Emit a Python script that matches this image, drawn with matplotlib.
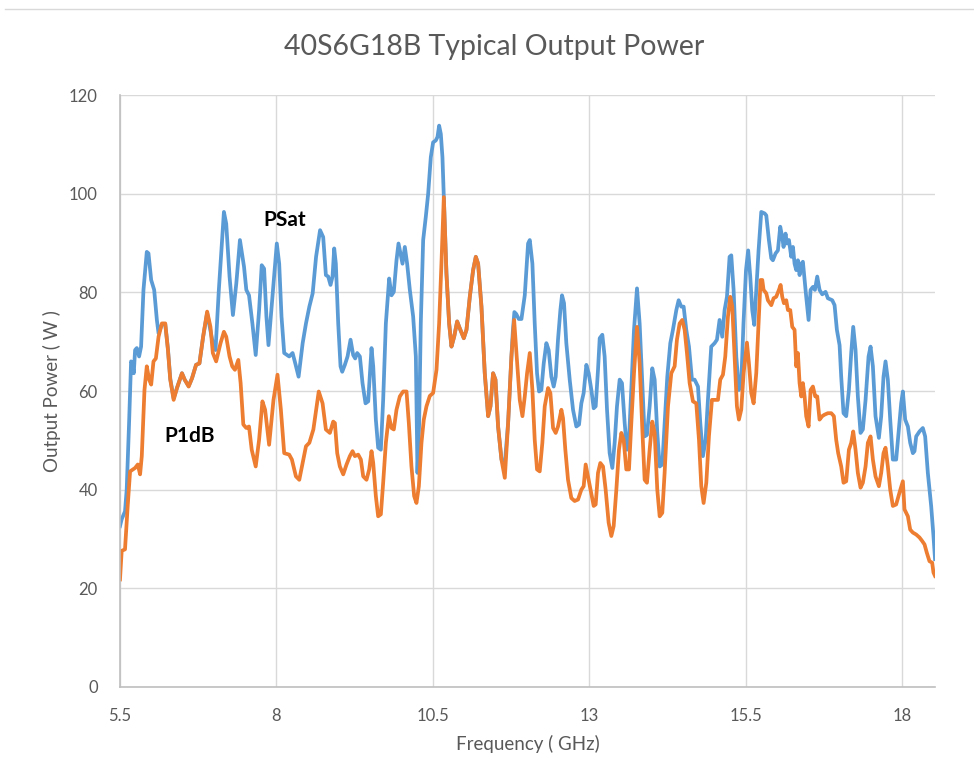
import matplotlib
matplotlib.use("Agg")
import matplotlib.pyplot as plt
from matplotlib.lines import Line2D

# frequency (GHz) and output power (W)
psat_freq = [5.50, 5.527, 5.58, 5.607, 5.645, 5.677, 5.698, 5.72, 5.741, 5.768, 5.805, 5.837,
             5.875, 5.928, 5.955, 5.998, 6.046, 6.089, 6.116, 6.169, 6.223, 6.266, 6.303, 6.357,
             6.41, 6.49, 6.533, 6.597, 6.651, 6.715, 6.769, 6.828, 6.892, 6.983, 7.026, 7.079,
             7.16, 7.197, 7.25, 7.304, 7.358, 7.416, 7.481, 7.518, 7.561, 7.615, 7.668, 7.722,
             7.764, 7.802, 7.839, 7.872, 7.936, 8.005, 8.043, 8.08, 8.123, 8.203, 8.257, 8.30,
             8.353, 8.418, 8.471, 8.525, 8.578, 8.632, 8.696, 8.746, 8.789, 8.826, 8.863, 8.895,
             8.922, 8.948, 8.986, 9.023, 9.05, 9.092, 9.135, 9.183, 9.225, 9.257, 9.289, 9.332,
             9.374, 9.422, 9.465, 9.518, 9.545, 9.587, 9.624, 9.667, 9.704, 9.747, 9.80, 9.837,
             9.874, 9.917, 9.949, 9.981, 10.013, 10.05, 10.087, 10.13, 10.183, 10.226, 10.252,
             10.279, 10.305, 10.343, 10.385, 10.423, 10.465, 10.502, 10.545, 10.572, 10.598,
             10.625, 10.651, 10.673, 10.715, 10.758, 10.795, 10.838, 10.886, 10.928, 10.992,
             11.035, 11.088, 11.141, 11.184, 11.221, 11.274, 11.327, 11.381, 11.418, 11.46,
             11.498, 11.54, 11.594, 11.647, 11.70, 11.753, 11.775, 11.80, 11.83, 11.87, 11.913,
             11.966, 12.019, 12.046, 12.088, 12.125, 12.162, 12.194, 12.231, 12.269, 12.311,
             12.348, 12.391, 12.428, 12.46, 12.497, 12.535, 12.561, 12.593, 12.63, 12.684,
             12.737, 12.79, 12.833, 12.87, 12.907, 12.95, 12.987, 13.03, 13.067, 13.099, 13.136,
             13.163, 13.205, 13.242, 13.28, 13.322, 13.365, 13.402, 13.439, 13.482, 13.519,
             13.562, 13.599, 13.631, 13.668, 13.711, 13.759, 13.801, 13.844, 13.881, 13.918,
             13.961, 14.003, 14.041, 14.083, 14.121, 14.163, 14.20, 14.243, 14.291, 14.333,
             14.387, 14.424, 14.466, 14.504, 14.546, 14.589, 14.637, 14.679, 14.733, 14.77,
             14.812, 14.855, 14.892, 14.945, 14.999, 15.036, 15.078, 15.121, 15.158, 15.196,
             15.238, 15.265, 15.302, 15.345, 15.387, 15.424, 15.46, 15.50, 15.535, 15.568, 15.60,
             15.632, 15.664, 15.701, 15.744, 15.797, 15.824, 15.866, 15.904, 15.93, 15.973,
             16.01, 16.047, 16.079, 16.10, 16.132, 16.154, 16.186, 16.223, 16.25, 16.276,
             16.303, 16.329, 16.356, 16.383, 16.409, 16.436, 16.462, 16.50, 16.532, 16.569,
             16.601, 16.638, 16.675, 16.718, 16.771, 16.808, 16.878, 16.915, 16.952, 16.995,
             17.021, 17.058, 17.101, 17.144, 17.181, 17.213, 17.25, 17.287, 17.33, 17.367,
             17.41, 17.458, 17.49, 17.527, 17.569, 17.623, 17.66, 17.697, 17.729, 17.766,
             17.804, 17.846, 17.899, 17.942, 17.979, 18.006, 18.043, 18.086, 18.123, 18.166,
             18.192, 18.219, 18.272, 18.325, 18.362, 18.405, 18.458, 18.495, 18.52]
psat_w = [32.6, 34.0, 35.6, 40.0, 53.5, 66.0, 65.6, 63.6, 68.3, 68.7, 67.0, 69.0,
          80.5, 88.2, 87.9, 82.5, 80.5, 74.4, 71.7, 73.5, 73.5, 68.5, 62.5, 58.5,
          60.6, 63.6, 62.3, 61.0, 62.6, 65.3, 65.6, 71.0, 75.8, 69.7, 68.3, 80.5,
          96.3, 93.9, 83.2, 75.4, 81.8, 90.6, 85.2, 80.5, 79.4, 73.7, 67.3, 76.4,
          85.5, 84.8, 75.1, 69.3, 79.1, 89.9, 85.8, 75.1, 67.7, 67.0, 67.7, 65.6,
          62.9, 69.7, 73.7, 77.1, 79.8, 87.2, 92.6, 91.2, 83.5, 83.2, 81.5, 83.2,
          88.9, 85.8, 73.7, 65.0, 63.9, 65.3, 67.0, 70.4, 67.3, 66.6, 67.7, 67.0,
          61.6, 57.5, 57.9, 68.7, 65.0, 54.2, 48.5, 48.1, 58.2, 73.7, 82.8, 79.4,
          80.1, 86.5, 89.9, 87.9, 85.8, 89.2, 85.8, 80.5, 75.1, 67.0, 43.4,
          53.5, 73.7, 90.6, 95.3, 100.0, 107.4, 110.4, 110.8, 111.5, 113.8,
          112.1, 107.4, 99.3, 83.8, 73.7, 69.0, 71.0, 74.1, 72.7, 70.7,
          72.4, 79.1, 84.5, 87.2, 85.8, 77.1, 63.6, 54.9, 56.9, 63.6,
          62.3, 52.8, 46.1, 45.2, 53.5, 67.0, 72.0, 76.0, 75.6, 74.6, 74.6,
          79.4, 89.9, 90.6, 85.8, 73.7, 63.6, 59.9, 60.2, 65.6, 69.7,
          68.3, 62.9, 60.9, 62.9, 70.4, 76.4, 79.4, 77.8, 69.7, 62.3,
          56.2, 52.8, 53.2, 57.5, 59.6, 65.3, 63.6, 60.2, 56.5, 56.9, 64.3,
          70.7, 71.4, 67.0, 56.2, 47.4, 44.4, 49.5, 56.9, 62.3, 61.6,
          53.5, 48.1, 50.1, 60.2, 72.4, 80.8, 73.7, 61.6, 50.8, 51.1,
          56.9, 64.6, 62.3, 51.5, 44.7, 45.1, 53.5, 62.9, 69.7, 72.4,
          76.4, 78.4, 77.1, 77.1, 72.4, 69.0, 62.3, 62.3, 60.9, 53.5,
          46.8, 50.1, 58.2, 69.0, 69.7, 70.4, 74.4, 71.0, 76.4, 79.1,
          87.2, 87.5, 80.5, 67.0, 60.2, 61.6, 73.7, 84.5, 88.5, 83.2, 76.4,
          73.4, 80.5, 88.5, 96.3, 96.0, 95.6, 90.6, 86.9, 86.5, 87.9,
          88.5, 93.3, 91.2, 89.2, 91.9, 89.9, 90.6, 87.2, 89.2, 85.8,
          84.5, 86.5, 83.5, 85.8, 86.2, 82.5, 79.1, 74.4, 80.5, 81.1,
          80.5, 83.2, 80.5, 79.6, 80.1, 78.8, 78.4, 77.4, 72.4, 69.3,
          62.9, 55.5, 54.9, 60.2, 67.7, 73.0, 68.3, 58.9, 51.5, 52.2,
          58.2, 67.0, 69.0, 65.0, 54.9, 50.5, 54.9, 62.9, 66.0, 62.3,
          54.2, 46.1, 46.1, 52.2, 57.5, 59.9, 54.2, 52.8, 49.5, 47.4,
          47.8, 50.8, 51.8, 52.5, 50.8, 43.4, 36.7, 30.6, 25.9]

p1db_freq = [5.50, 5.527, 5.58, 5.623, 5.661, 5.741, 5.784, 5.821, 5.848, 5.891, 5.928, 5.966,
             5.998, 6.035, 6.073, 6.116, 6.169, 6.223, 6.266, 6.303, 6.357, 6.41, 6.49, 6.533,
             6.597, 6.651, 6.715, 6.769, 6.828, 6.892, 6.945, 6.983, 7.036, 7.106, 7.16, 7.197,
             7.25, 7.293, 7.336, 7.39, 7.427, 7.47, 7.518, 7.561, 7.604, 7.668, 7.722, 7.775,
             7.818, 7.882, 7.952, 8.016, 8.07, 8.123, 8.203, 8.246, 8.31, 8.364, 8.407, 8.471,
             8.525, 8.589, 8.675, 8.736, 8.789, 8.853, 8.906, 8.933, 8.97, 9.012, 9.066, 9.119,
             9.172, 9.215, 9.252, 9.305, 9.348, 9.385, 9.438, 9.481, 9.518, 9.545, 9.587, 9.624,
             9.667, 9.704, 9.747, 9.795, 9.837, 9.874, 9.917, 9.97, 10.023, 10.077, 10.114,
             10.156, 10.199, 10.236, 10.274, 10.316, 10.353, 10.396, 10.449, 10.502, 10.556,
             10.598, 10.635, 10.673, 10.715, 10.758, 10.795, 10.838, 10.886, 10.928, 10.992,
             11.035, 11.088, 11.141, 11.184, 11.221, 11.274, 11.327, 11.381, 11.418, 11.46,
             11.498, 11.54, 11.594, 11.647, 11.70, 11.753, 11.796, 11.833, 11.886, 11.929,
             11.966, 12.003, 12.046, 12.088, 12.125, 12.162, 12.205, 12.247, 12.285, 12.338,
             12.375, 12.418, 12.46, 12.497, 12.551, 12.577, 12.614, 12.657, 12.71, 12.763,
             12.817, 12.87, 12.907, 12.939, 12.976, 13.019, 13.067, 13.099, 13.136, 13.173,
             13.216, 13.258, 13.306, 13.349, 13.386, 13.429, 13.471, 13.509, 13.546, 13.588,
             13.631, 13.668, 13.711, 13.759, 13.801, 13.844, 13.881, 13.918, 13.961, 14.003,
             14.041, 14.083, 14.121, 14.163, 14.20, 14.254, 14.307, 14.36, 14.397, 14.44,
             14.482, 14.52, 14.557, 14.60, 14.653, 14.706, 14.749, 14.786, 14.823, 14.866,
             14.908, 14.956, 14.999, 15.052, 15.089, 15.132, 15.169, 15.212, 15.249, 15.281,
             15.318, 15.355, 15.387, 15.424, 15.462, 15.515, 15.547, 15.584, 15.622, 15.664,
             15.701, 15.733, 15.76, 15.781, 15.824, 15.85, 15.904, 15.941, 15.983, 16.026,
             16.053, 16.079, 16.106, 16.143, 16.17, 16.207, 16.239, 16.276, 16.303, 16.329,
             16.356, 16.383, 16.409, 16.436, 16.462, 16.50, 16.532, 16.569, 16.606, 16.638,
             16.675, 16.718, 16.755, 16.808, 16.862, 16.904, 16.941, 16.973, 17.021, 17.058,
             17.101, 17.144, 17.181, 17.213, 17.25, 17.287, 17.33, 17.367, 17.41, 17.447,
             17.49, 17.527, 17.569, 17.623, 17.66, 17.697, 17.729, 17.766, 17.804, 17.846,
             17.899, 17.952, 18.006, 18.032, 18.086, 18.123, 18.166, 18.219, 18.272, 18.314,
             18.352, 18.389, 18.431, 18.474, 18.495, 18.52]
p1db_w = [21.8, 27.6, 27.9, 36.7, 43.7, 44.4, 45.1, 43.1, 46.8, 60.2, 65.0, 62.3,
          61.3, 66.0, 66.6, 71.0, 73.7, 73.7, 68.3, 62.3, 58.2, 60.6, 63.6, 62.3,
          60.9, 62.6, 65.3, 65.6, 71.0, 76.1, 73.0, 67.7, 66.0, 69.7, 72.0, 71.0,
          67.0, 65.0, 64.3, 66.3, 61.6, 53.2, 52.5, 52.8, 48.1, 44.7, 50.1, 57.9,
          56.2, 49.1, 58.2, 63.3, 56.2, 47.4, 47.1, 46.1, 42.7, 42.0, 44.7, 48.8,
          49.5, 52.2, 59.9, 57.5, 52.2, 51.5, 53.8, 53.5, 47.4, 44.7, 43.1, 45.1,
          46.8, 47.8, 46.8, 47.1, 46.1, 42.7, 42.0, 44.1, 47.8, 45.4, 38.7, 34.6,
          35.0, 41.4, 49.5, 54.9, 52.5, 52.2, 56.2, 58.9, 59.9, 59.9, 53.5,
          44.7, 38.7, 37.3, 40.7, 49.5, 54.2, 56.9, 59.0, 59.6, 64.3,
          73.7, 85.8, 99.3, 83.8, 73.7, 69.0, 71.0, 74.1, 72.7, 70.7,
          72.4, 79.1, 84.5, 87.2, 85.8, 77.1, 63.6, 54.9, 56.9, 63.6,
          62.3, 52.8, 46.1, 42.4, 53.5, 67.0, 74.4, 67.7, 58.2, 54.9,
          58.9, 63.6, 67.7, 60.2, 50.1, 44.1, 43.7, 49.5, 56.9, 60.6,
          59.6, 52.5, 51.5, 52.8, 56.2, 54.5, 48.1, 42.0, 38.3, 37.7,
          38.0, 40.0, 40.7, 45.1, 42.7, 40.0, 36.7, 37.0, 43.4, 45.4,
          44.7, 40.0, 33.3, 30.6, 32.6, 40.0, 48.1, 51.5, 50.1, 44.1,
          44.1, 53.5, 63.6, 73.0, 65.6, 52.2, 42.0, 41.4, 48.1, 53.8,
          51.5, 40.0, 34.6, 35.3, 43.4, 56.9, 63.6, 65.0, 70.4, 73.7,
          74.4, 72.4, 67.7, 61.6, 57.9, 57.5, 50.1, 40.7, 37.3, 41.4,
          50.8, 58.2, 58.2, 58.2, 62.3, 63.3, 67.0, 75.1, 79.1, 77.1,
          67.0, 56.9, 54.2, 56.2, 63.6, 69.8, 65.6, 59.6, 57.5, 63.6,
          73.7, 82.5, 82.5, 80.5, 79.8, 78.4, 77.4, 78.8, 79.1, 80.5,
          81.5, 79.1, 77.8, 78.4, 76.4, 76.4, 73.0, 72.4, 65.0, 67.7,
          61.6, 58.9, 61.6, 58.9, 54.9, 52.8, 60.2, 60.9, 58.9, 58.9,
          54.2, 54.9, 55.2, 55.5, 55.5, 54.9, 50.1, 47.4, 44.7, 41.4,
          41.7, 48.1, 49.5, 51.8, 48.1, 43.4, 40.4, 41.4, 44.7, 49.5,
          50.8, 46.1, 42.7, 40.7, 43.4, 47.4, 48.5, 44.7, 40.0, 36.7,
          37.0, 39.4, 41.7, 36.0, 34.6, 31.9, 31.3, 30.9, 30.3, 29.6,
          28.9, 27.2, 25.5, 25.2, 23.2, 22.5]

x_ticks = [5.5, 8, 10.5, 13, 15.5, 18]
x_tick_labels = ["5.5", "8", "10.5", "13", "15.5", "18"]
y_ticks = [0, 20, 40, 60, 80, 100, 120]

plt.rcParams['font.family'] = ['Lato', 'DejaVu Sans']
grey_txt = '#595959'
grid_col = '#d9d9d9'

fig = plt.figure(figsize=(9.74, 7.82), dpi=100)
ax = fig.add_axes([0.1232, 0.1215, 0.8368, 0.757])

ax.plot(psat_freq, psat_w, color='#5B9BD5', lw=2.7, solid_joinstyle='round')
ax.plot(p1db_freq, p1db_w, color='#ED7D31', lw=2.7, solid_joinstyle='round')

ax.set_xlim(5.5, 18.52)
ax.set_ylim(0, 120)
ax.set_xticks(x_ticks)
ax.set_xticklabels(x_tick_labels)
ax.set_yticks(y_ticks)
ax.grid(True, color=grid_col, lw=1.0)
ax.set_axisbelow(True)
ax.tick_params(length=0, colors=grey_txt, labelsize=12, pad=16)
ax.tick_params(axis='x', pad=15)
for s in ['top', 'right']:
    ax.spines[s].set_visible(False)
for s in ['left', 'bottom']:
    ax.spines[s].set_color('#bfbfbf')
    ax.spines[s].set_linewidth(1.2)

ax.set_xlabel('Frequency ( GHz)', color=grey_txt, fontsize=13.5, labelpad=8)
ax.set_ylabel('Output Power ( W )', color=grey_txt, fontsize=13.5, labelpad=6)
fig.text(0.507, 0.94, '40S6G18B Typical Output Power', ha='center', va='center',
         color=grey_txt, fontsize=20.5)

ax.text(8.13, 94.7, 'PSat', fontsize=15, fontweight='bold', ha='center', va='center')
ax.text(6.62, 50.9, 'P1dB', fontsize=15, fontweight='bold', ha='center', va='center')

fig.add_artist(Line2D([0.005, 1.0], [0.9885, 0.9885], color='#d9d9d9', lw=1.0))

fig.savefig('out.png', dpi=100)
